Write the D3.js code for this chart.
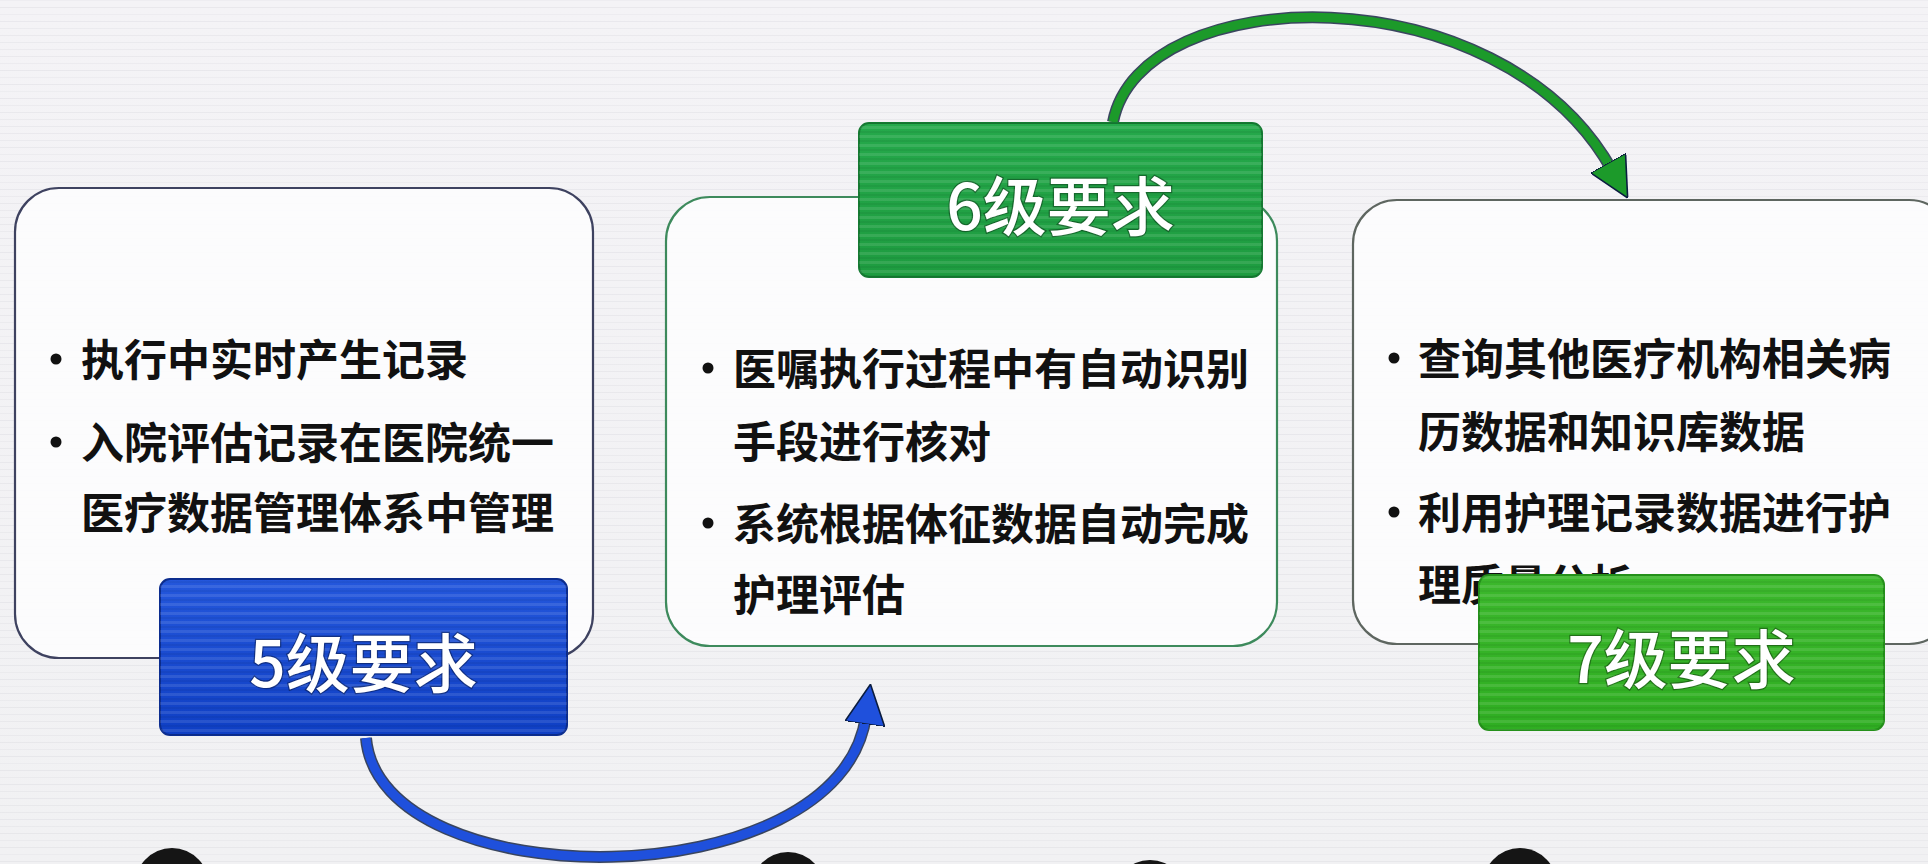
<!DOCTYPE html>
<html><head><meta charset="utf-8">
<script src="https://cdn.jsdelivr.net/npm/d3@7"></script>
<style>html,body{margin:0;padding:0;background:#f3f3f5;overflow:hidden}</style>
</head><body><svg id="c" width="1928" height="864"></svg>
<script>
// ---- data ----
const levels = ["5级要求", "6级要求", "7级要求"];
const box1Lines = [{b:true,t:"执行中实时产生记录"},{b:true,t:"入院评估记录在医院统一"},{b:false,t:"医疗数据管理体系中管理"}];
const box2Lines = [{b:true,t:"医嘱执行过程中有自动识别"},{b:false,t:"手段进行核对"},{b:true,t:"系统根据体征数据自动完成"},{b:false,t:"护理评估"}];
const box3Lines = [{b:true,t:"查询其他医疗机构相关病"},{b:false,t:"历数据和知识库数据"},{b:true,t:"利用护理记录数据进行护"},{b:false,t:"理质量分析"}];

// ---- layout ----
const W = 1928, H = 864;
const svg = d3.select("#c");
const defs = svg.append("defs");
const font = "'Noto Sans CJK SC','Noto Sans',sans-serif";

// background with faint horizontal streaks (screen photo look)
const bg = defs.append("linearGradient").attr("id","bg").attr("x1",0).attr("y1",0).attr("x2",0).attr("y2",1);
bg.append("stop").attr("offset","0").attr("stop-color","#f4f3f6");
bg.append("stop").attr("offset","1").attr("stop-color","#f1f1f3");
svg.append("rect").attr("width",W).attr("height",H).attr("fill","url(#bg)");
const streaks = d3.range(0, H, 7);
svg.append("g").selectAll("line").data(streaks).join("line")
  .attr("x1",0).attr("x2",W).attr("y1",d=>d+0.5).attr("y2",d=>d+0.5)
  .attr("stroke","#c8c8d0").attr("stroke-width",1)
  .attr("opacity",(d,i)=>0.12 + 0.12*Math.abs(Math.sin(i*1.7)));

// stripes pattern for labels
const pat = defs.append("pattern").attr("id","stripe").attr("width",8).attr("height",9).attr("patternUnits","userSpaceOnUse");
pat.append("rect").attr("y",0).attr("width",8).attr("height",3).attr("fill","#ffffff").attr("opacity",0.10);
pat.append("rect").attr("y",5).attr("width",8).attr("height",2).attr("fill","#000000").attr("opacity",0.05);

function grad(id, c1, c2){
  const g = defs.append("linearGradient").attr("id",id).attr("x1",0).attr("y1",0).attr("x2",0).attr("y2",1);
  g.append("stop").attr("offset","0").attr("stop-color",c1);
  g.append("stop").attr("offset","1").attr("stop-color",c2);
}
grad("gBlue","#2457dc","#0f3fc4");
grad("gGreen6","#25a94b","#1e9c40");
grad("gGreen7","#3cb82c","#2fae22");

// boxes
const boxes = [
  {x:15,  y:188, w:578, h:470, stroke:"#3e4260", lines:box1Lines, bx:56,  tx:81,  ys:[357,440,510]},
  {x:666, y:197, w:611, h:449, stroke:"#3d8a5c", lines:box2Lines, bx:708, tx:733, ys:[366,439,521,592]},
  {x:1353,y:200, w:600, h:444, stroke:"#5e6660", lines:box3Lines, bx:1394,tx:1418,ys:[356,429,510,582]}
];
const gBoxes = svg.append("g");
boxes.forEach(b=>{
  gBoxes.append("rect").attr("x",b.x).attr("y",b.y).attr("width",b.w).attr("height",b.h)
    .attr("rx",44).attr("fill","#fdfdfe").attr("fill-opacity",0.9)
    .attr("stroke",b.stroke).attr("stroke-width",2.2);
  const t = gBoxes.append("g");
  b.lines.forEach((l,i)=>{
    if(l.b) t.append("circle").attr("cx",b.bx).attr("cy",b.ys[i]+2).attr("r",5.5).attr("fill","#111");
    t.append("text").attr("x",b.tx).attr("y",b.ys[i]).attr("dominant-baseline","central")
      .attr("font-family",font).attr("font-weight",700).attr("font-size",43)
      .attr("fill","#111").text(l.t);
  });
});

// arrows
function arrowHead(id,color){
  defs.append("marker").attr("id",id).attr("viewBox","0 0 10 10").attr("refX",2).attr("refY",5)
    .attr("markerWidth",40).attr("markerHeight",40).attr("markerUnits","userSpaceOnUse").attr("orient","auto")
    .append("path").attr("d","M0,0 L10,5 L0,10 Z").attr("fill",color).attr("stroke","#0b1d40").attr("stroke-width",0.4);
}
arrowHead("ahBlue","#1f50dc");
arrowHead("ahGreen","#1c9a2a");
const arrows = [
  {d:"M366,738 C380,900 840,900 866,716", color:"#1f50dc", marker:"ahBlue"},
  {d:"M1113,122 C1140,-20 1500,-30 1612,170", color:"#1c9a2a", marker:"ahGreen"}
];
const gA = svg.append("g");
arrows.forEach(a=>{
  gA.append("path").attr("d",a.d).attr("fill","none").attr("stroke","#0b1a3a").attr("stroke-width",12).attr("opacity",0.8);
  gA.append("path").attr("d",a.d).attr("fill","none").attr("stroke",a.color).attr("stroke-width",9)
    .attr("marker-end","url(#"+a.marker+")");
});

// level labels
const labels = [
  {x:160, y:579, w:407, h:156, fill:"url(#gBlue)", stroke:"#0c2d8f"},
  {x:859, y:123, w:403, h:154, fill:"url(#gGreen6)", stroke:"#157a32"},
  {x:1479,y:575, w:405, h:155, fill:"url(#gGreen7)", stroke:"#24901a"}
];
const gL = svg.append("g");
labels.forEach((l,i)=>{
  gL.append("rect").attr("x",l.x).attr("y",l.y).attr("width",l.w).attr("height",l.h).attr("rx",10)
    .attr("fill",l.fill).attr("stroke",l.stroke).attr("stroke-width",2);
  gL.append("rect").attr("x",l.x).attr("y",l.y).attr("width",l.w).attr("height",l.h).attr("rx",10)
    .attr("fill","url(#stripe)");
  gL.append("text").attr("x",l.x+l.w/2).attr("y",l.y+l.h/2+2).attr("text-anchor","middle")
    .attr("dominant-baseline","central").attr("font-family",font).attr("font-weight",500)
    .attr("font-size",64).attr("fill","#ffffff").attr("stroke","rgba(0,0,0,0.35)").attr("stroke-width",2.5)
    .attr("paint-order","stroke").text(levels[i]);
});

// audience heads at bottom edge (photo)
const heads = [{x:172,y:888},{x:788,y:892},{x:1150,y:900},{x:1520,y:888}];
svg.append("g").selectAll("ellipse").data(heads).join("ellipse")
  .attr("cx",d=>d.x).attr("cy",d=>d.y).attr("rx",38).attr("ry",40).attr("fill","#151515");
</script></body></html>
